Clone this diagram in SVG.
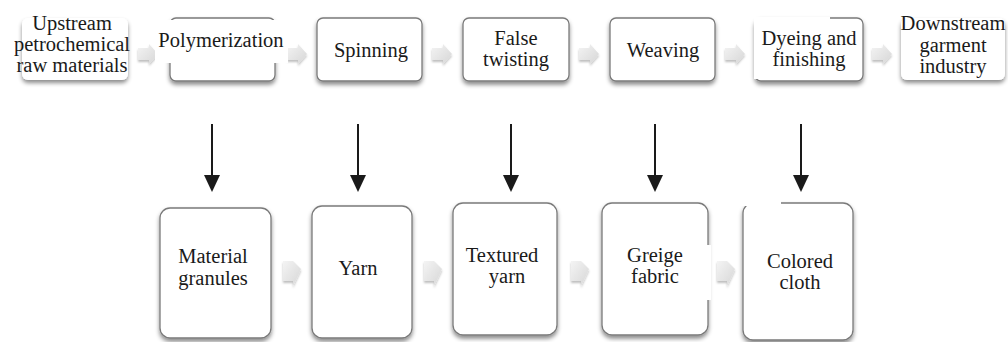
<svg xmlns="http://www.w3.org/2000/svg" width="1008" height="342" viewBox="0 0 1008 342">
<defs>
<filter id="sh" x="-20%" y="-20%" width="140%" height="150%">
<feDropShadow dx="0" dy="3" stdDeviation="2.2" flood-color="#000" flood-opacity="0.45"/>
</filter>
<filter id="ash" x="-30%" y="-30%" width="160%" height="170%">
<feDropShadow dx="0" dy="2" stdDeviation="1.2" flood-color="#000" flood-opacity="0.25"/>
</filter>
<linearGradient id="ag" x1="0" y1="0" x2="1" y2="1">
<stop offset="0" stop-color="#f4f4f4"/>
<stop offset="1" stop-color="#d6d6d6"/>
</linearGradient>
<path id="ba" d="M0,-6 H11 V-10 L20,0 L11,10 V6 H0 Z"/>
<path id="bb" d="M0,-11 H10 L18,-3 L10,14 V9 H0 Z"/>
<path id="hd" d="M-8,0 H8 L0,17 Z"/>
</defs>
<style>
.box{fill:#fff;stroke:#7a7a7a;stroke-width:1.3;filter:url(#sh)}
.plain{fill:#fff;stroke:none;filter:url(#sh)}
.t{font-size:20.5px;fill:#1a1a1a;text-anchor:middle}
.cv{stroke:#1a1a1a;stroke-width:2;fill:none}
.hd{fill:#1a1a1a}
.blk{fill:url(#ag);filter:url(#ash)}
</style>
<rect width="1008" height="342" fill="#fff"/>

<g id="connectors">
<use href="#ba" class="blk" x="138" y="54"/>
<use href="#ba" class="blk" x="287" y="54"/>
<use href="#ba" class="blk" x="432" y="54"/>
<use href="#ba" class="blk" x="579" y="54"/>
<use href="#ba" class="blk" x="725" y="54"/>
<use href="#ba" class="blk" x="872" y="54"/>
<use href="#bb" class="blk" x="283" y="272"/>
<use href="#bb" class="blk" x="424" y="272"/>
<use href="#bb" class="blk" x="571" y="272"/>
<use href="#bb" class="blk" x="717" y="272"/>
<line class="cv" x1="212" y1="124" x2="212" y2="178"/>
<line class="cv" x1="358" y1="124" x2="358" y2="178"/>
<line class="cv" x1="511" y1="124" x2="511" y2="178"/>
<line class="cv" x1="655" y1="124" x2="655" y2="178"/>
<line class="cv" x1="801" y1="124" x2="801" y2="178"/>
<use href="#hd" class="hd" x="212" y="175"/>
<use href="#hd" class="hd" x="358" y="175"/>
<use href="#hd" class="hd" x="511" y="175"/>
<use href="#hd" class="hd" x="655" y="175"/>
<use href="#hd" class="hd" x="801" y="175"/>
</g>

<g font-family="'Liberation Serif', 'Times New Roman', 'DejaVu Serif', serif">
<g id="upstream">
<rect class="plain" x="22" y="18" width="106" height="62" rx="6"/>
<text class="t" x="72" y="30">Upstream</text>
<text class="t" x="72" y="51">petrochemical</text>
<text class="t" x="72" y="72">raw materials</text>
</g>
<g id="polymerization">
<rect class="box" x="170" y="18" width="105" height="63" rx="6"/>
<rect x="155" y="20" width="133" height="43" fill="#fff"/>
<text class="t" x="221" y="47">Polymerization</text>
</g>
<g id="spinning">
<rect class="box" x="317" y="18" width="105" height="63" rx="6"/>
<text class="t" x="371" y="57">Spinning</text>
</g>
<g id="false-twisting">
<rect class="box" x="463" y="18" width="106" height="63" rx="6"/>
<text class="t" x="516" y="45">False</text>
<text class="t" x="516" y="66">twisting</text>
</g>
<g id="weaving">
<rect class="box" x="610" y="18" width="105" height="63" rx="6"/>
<text class="t" x="663" y="57">Weaving</text>
</g>
<g id="dyeing">
<rect class="box" x="755" y="18" width="108" height="63" rx="6"/>
<rect x="754" y="17" width="76" height="62" fill="#fff"/>
<text class="t" x="809" y="45">Dyeing and</text>
<text class="t" x="809" y="66">finishing</text>
</g>
<g id="downstream">
<rect class="plain" x="901" y="18" width="104" height="62" rx="6"/>
<text class="t" x="953" y="30">Downstream</text>
<text class="t" x="953" y="52">garment</text>
<text class="t" x="953" y="73">industry</text>
</g>

<g id="material-granules">
<rect class="box" x="160" y="208" width="111" height="130" rx="10"/>
<text class="t" x="213" y="263">Material</text>
<text class="t" x="213" y="285">granules</text>
</g>
<g id="yarn">
<rect class="box" x="312" y="206" width="100" height="132" rx="10"/>
<text class="t" x="358" y="275">Yarn</text>
</g>
<g id="textured-yarn">
<rect class="box" x="453" y="203" width="104" height="132" rx="10"/>
<text class="t" x="502" y="262">Textured</text>
<text class="t" x="507" y="283">yarn</text>
</g>
<g id="greige-fabric">
<rect class="box" x="602" y="203" width="106" height="132" rx="10"/>
<rect x="705" y="245" width="6" height="55" fill="#fff"/>
<text class="t" x="655" y="262">Greige</text>
<text class="t" x="655" y="283">fabric</text>
</g>
<g id="colored-cloth">
<rect class="box" x="743" y="203" width="110" height="137" rx="10"/>
<rect x="741" y="200" width="40" height="6" fill="#fff"/>
<text class="t" x="800" y="268">Colored</text>
<text class="t" x="800" y="289">cloth</text>
</g>
</g>
</svg>
